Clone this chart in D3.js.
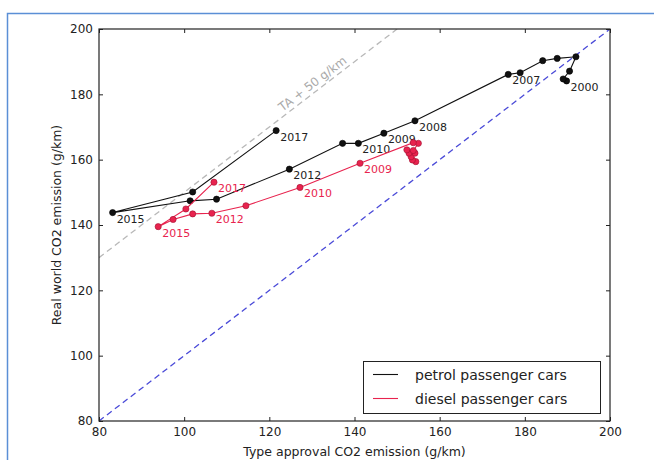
<!DOCTYPE html>
<html>
<head>
<meta charset="utf-8">
<script src="https://cdn.jsdelivr.net/npm/d3@7"></script>
<style>
	body { margin: 0; background: #fff; }
	svg { display: block; font-family: "DejaVu Sans", sans-serif; }
</style>
</head>
<body>
<div id="chart"></div>
<script>

// years 2000 .. 2017
let years = [2000,2001,2002,2003,2004,2005,2006,2007,2008,2009,2010,2011,2012,2013,2014,2015,2016,2017]

let petrolTA = [189.8,189.0,190.5,192.0,187.6,184.2,178.9,176.1,154.2,146.9,140.9,137.2,124.7,107.6,101.4,83.2,102.0,121.6]
let petrolRW = [184.1,184.7,187.1,191.5,191.0,190.3,186.6,186.1,171.9,168.1,165.0,165.0,157.1,147.9,147.4,143.8,150.1,168.9]

let dieselTA = [154.4,153.6,153.3,154.2,152.8,152.3,153.8,155.0,153.8,141.3,127.2,114.5,106.5,102.0,97.4,93.9,100.4,107.0]
let dieselRW = [159.4,159.9,160.9,162.0,162.0,163.0,162.8,165.0,165.2,158.9,151.5,145.9,143.6,143.4,141.7,139.5,144.9,153.1]

let petrolLabelYears = [2000,2007,2008,2009,2010,2012,2015,2017]
let dieselLabelYears = [2009,2010,2012,2015,2017]

let xTicks = [80,100,120,140,160,180,200]
let yTicks = [80,100,120,140,160,180,200]

let legendNames = ['petrol passenger cars','diesel passenger cars']

let W = 654, H = 460
let margin = {left:99, right:44, top:29, bottom:39}
let black = '#111', red = '#e8234e'

let svg = d3.select('#chart').append('svg').attr('width',W).attr('height',H)

// outer frame of the figure
svg.append('rect').attr('x',7.5).attr('y',13.5).attr('width',700).attr('height',500)
	.attr('fill','none').attr('stroke','#5b8fd6').attr('stroke-width',1.5)

let x = d3.scaleLinear().domain([80,200]).range([margin.left, W-margin.right])
let y = d3.scaleLinear().domain([80,200]).range([H-margin.bottom, margin.top])

let g = svg.append('g')
let clip = svg.append('clipPath').attr('id','plotclip').append('rect')
	.attr('x',x(80)).attr('y',y(200)).attr('width',x(200)-x(80)).attr('height',y(80)-y(200))

// reference lines
let line = d3.line().x(d=>x(d[0])).y(d=>y(d[1]))
g.append('path').attr('d',line([[80,80],[200,200]])).attr('clip-path','url(#plotclip)')
	.attr('stroke','#4a4ad8').attr('stroke-width',1.3).attr('stroke-dasharray','6,4').attr('fill','none')
g.append('path').attr('d',line([[80,130],[150,200]])).attr('clip-path','url(#plotclip)')
	.attr('stroke','#b8b8b8').attr('stroke-width',1.3).attr('stroke-dasharray','6,4').attr('fill','none')

let ang = Math.atan2(y(200)-y(130), x(150)-x(80)) * 180/Math.PI
g.append('text').attr('transform',`translate(${x(131.3)},${y(181.3)}) rotate(${ang}) translate(0,-4)`)
	.attr('text-anchor','middle').attr('font-size',12).attr('fill','#aaa').text('TA + 50 g/km')

// series
function series(ta, rw, color, labelYears) {
	let pts = ta.map((v,i)=>[v, rw[i], years[i]])
	g.append('path').attr('d',line(pts)).attr('fill','none').attr('stroke',color).attr('stroke-width',1.1)
	g.selectAll(null).data(pts).enter().append('circle')
		.attr('cx',d=>x(d[0])).attr('cy',d=>y(d[1])).attr('r',3.1)
		.attr('fill',color).attr('stroke', color==red ? '#a01030' : '#000').attr('stroke-width',0.6)
	g.selectAll(null).data(pts.filter(d=>labelYears.includes(d[2]))).enter().append('text')
		.attr('x',d=>x(d[0])+4).attr('y',d=>y(d[1])+10).attr('font-size',11)
		.attr('fill', color==red ? red : '#222').text(d=>d[2])
}
series(petrolTA, petrolRW, black, petrolLabelYears)
series(dieselTA, dieselRW, red, dieselLabelYears)

// axes (ticks inward on all sides)
let tk = 4
svg.append('g').attr('transform',`translate(0,${y(80)})`)
	.call(d3.axisBottom(x).tickValues(xTicks).tickSize(-tk).tickPadding(6))
svg.append('g').attr('transform',`translate(0,${y(200)})`)
	.call(d3.axisTop(x).tickValues(xTicks).tickSize(-tk).tickFormat(''))
svg.append('g').attr('transform',`translate(${x(80)},0)`)
	.call(d3.axisLeft(y).tickValues(yTicks).tickSize(-tk).tickPadding(6))
svg.append('g').attr('transform',`translate(${x(200)},0)`)
	.call(d3.axisRight(y).tickValues(yTicks).tickSize(-tk).tickFormat(''))
svg.selectAll('.domain').remove()
svg.selectAll('.tick text').attr('font-size',12).attr('fill','#222').attr('font-family','"DejaVu Sans", sans-serif')
svg.selectAll('.tick line').attr('stroke','#222')

svg.append('rect').attr('x',x(80)).attr('y',y(200)).attr('width',x(200)-x(80)).attr('height',y(80)-y(200))
	.attr('fill','none').attr('stroke','#222').attr('stroke-width',1.2)

// axis titles
svg.append('text').attr('x',(x(80)+x(200))/2).attr('y',456).attr('text-anchor','middle')
	.attr('font-size',12.5).attr('fill','#222').text('Type approval CO2 emission (g/km)')
svg.append('text').attr('transform',`translate(61,${(y(80)+y(200))/2}) rotate(-90)`).attr('text-anchor','middle')
	.attr('font-size',12.5).attr('fill','#222').text('Real world CO2 emission (g/km)')

// legend
let lg = svg.append('g')
lg.append('rect').attr('x',363.5).attr('y',361.5).attr('width',237).attr('height',52)
	.attr('fill','#fff').attr('stroke','#222').attr('stroke-width',1)
let lcolors = [black, red]
legendNames.forEach((n,i)=>{
	let yy = 374.5 + i*24
	lg.append('line').attr('x1',373).attr('x2',398).attr('y1',yy).attr('y2',yy).attr('stroke',lcolors[i]).attr('stroke-width',1.1)
	lg.append('text').attr('x',415).attr('y',yy+5).attr('font-size',14).attr('fill','#222').text(n)
})

</script>
</body>
</html>
